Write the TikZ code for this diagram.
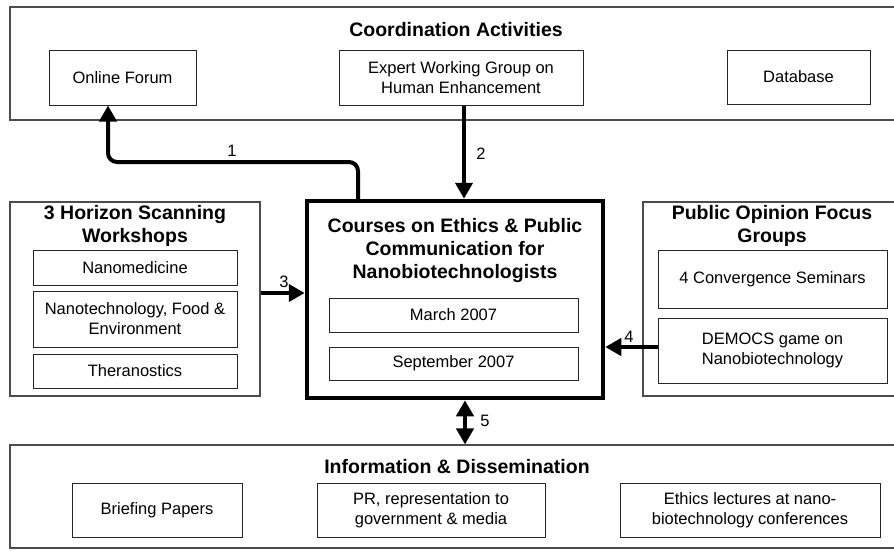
\documentclass[tikz,border=0pt]{standalone}
\usepackage{fontspec}
\setmainfont{Liberation Sans}
\usetikzlibrary{arrows.meta,calc}
\begin{document}
\begin{tikzpicture}[x=1pt,y=-1pt,
  outerbox/.style={draw=black!70,line width=1.1pt,rectangle,inner sep=0pt},
  subbox/.style={draw=black!85,line width=1pt,rectangle,inner sep=0pt,align=center,
    font=\fontsize{16.5}{20}\selectfont},
  ttl/.style={inner sep=0pt,align=center,font=\fontsize{19.5}{23}\selectfont\bfseries},
  lbl/.style={inner sep=0pt,font=\fontsize{16.5}{20}\selectfont},
  arr/.style={line width=4pt,-{Triangle[length=16pt,width=17pt]}},
  darr/.style={line width=4pt,{Triangle[length=16pt,width=17pt]}-{Triangle[length=16pt,width=17pt]}}]
\clip (0,0) rectangle (894,550);
\fill[white] (0,0) rectangle (894,550);
% outer boxes
\node[outerbox,minimum width=887pt,minimum height=113pt] (top) at (453.5,63.5) {};
\node[ttl] (toptitle) at (456,30) {Coordination Activities};
\node[subbox,minimum width=147pt,minimum height=55pt] (of) at (122.5,77.5) {Online Forum};
\node[subbox,minimum width=244pt,minimum height=55pt] (exp) at (461,77.5) {Expert Working Group on\\Human Enhancement};
\node[subbox,minimum width=143pt,minimum height=54pt] (db) at (798.5,77) {Database};

\node[outerbox,minimum width=250pt,minimum height=194pt] (left) at (135,299) {};
\node[ttl] (lefttitle) at (135,226) {3 Horizon Scanning\\Workshops};
\node[subbox,minimum width=204pt,minimum height=35pt] (nm) at (135,267.5) {Nanomedicine};
\node[subbox,minimum width=204pt,minimum height=56pt] (nf) at (135,319) {Nanotechnology, Food \&\\Environment};
\node[subbox,minimum width=204pt,minimum height=34pt] (th) at (135,371) {Theranostics};

\node[draw=black,line width=4.5pt,rectangle,inner sep=0pt,minimum width=296pt,minimum height=197pt] (ctr) at (455,299.5) {};
\node[ttl] (ctrtitle) at (455,250) {Courses on Ethics \& Public\\Communication for\\Nanobiotechnologists};
\node[subbox,minimum width=249pt,minimum height=34pt] (mar) at (453.5,315) {March 2007};
\node[subbox,minimum width=249pt,minimum height=33pt] (sep) at (453.5,363.5) {September 2007};

\node[outerbox,minimum width=254pt,minimum height=194pt] (right) at (770,299) {};
\node[ttl] (righttitle) at (772,226) {Public Opinion Focus\\Groups};
\node[subbox,minimum width=229pt,minimum height=58pt] (cs) at (772.5,279) {4 Convergence Seminars};
\node[subbox,minimum width=229pt,minimum height=65pt] (dem) at (772.5,350.5) {DEMOCS game on\\Nanobiotechnology};

\node[outerbox,minimum width=887pt,minimum height=103pt] (bot) at (453.5,496.5) {};
\node[ttl] (bottitle) at (457,467) {Information \& Dissemination};
\node[subbox,minimum width=170pt,minimum height=54pt] (bp) at (157,510) {Briefing Papers};
\node[subbox,minimum width=228pt,minimum height=54pt] (pr) at (431,510) {PR, representation to\\government \& media};
\node[subbox,minimum width=260pt,minimum height=54pt] (el) at (750,510) {Ethics lectures at nano-\\biotechnology conferences};

% connector helper coordinates
\coordinate (a1s) at (358,0);
\coordinate (a1k) at (108,162);
\coordinate (a2) at (464,0);
\coordinate (a3) at (0,293);
\coordinate (a4) at (0,347);
\coordinate (a5) at (465,0);

\draw[arr,rounded corners=9pt] (ctr.north -| a1s) |- (a1k) -- (of.south -| a1k);
\draw[arr] (exp.south -| a2) -- (ctr.north -| a2);
\draw[arr] (left.east |- a3) -- (ctr.west |- a3);
\draw[arr] (dem.west |- a4) -- (ctr.east |- a4);
\draw[darr] (ctr.south -| a5) -- (bot.north -| a5);

\node[lbl] (l1) at (232,151) {1};
\node[lbl] (l2) at (481,154) {2};
\node[lbl] (l3) at (284,282) {3};
\node[lbl] (l4) at (629,337) {4};
\node[lbl] (l5) at (485,421) {5};
\end{tikzpicture}
\end{document}
